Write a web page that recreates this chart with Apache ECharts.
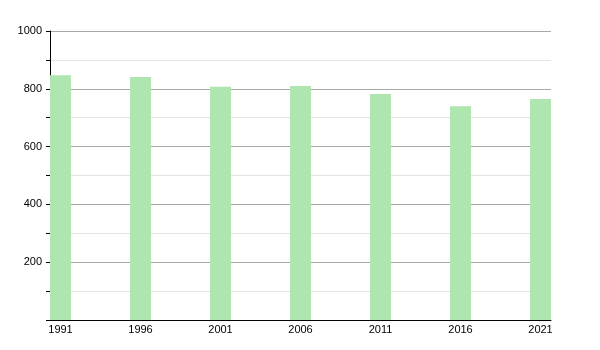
<!DOCTYPE html>
<html><head><meta charset="utf-8">
<script src="https://cdn.jsdelivr.net/npm/echarts@6/dist/echarts.min.js"></script>
<style>html,body{margin:0;padding:0;background:#fff}#c{width:600px;height:350px}</style>
</head><body><div id="c"></div>
<script>
var years = [1991, 1996, 2001, 2006, 2011, 2016, 2021];
var values = [847, 841, 807, 810, 782, 740, 765];
var yTicks = [200, 400, 600, 800, 1000];

var chart = echarts.init(document.getElementById('c'), null, {renderer: 'canvas'});
chart.setOption({
  animation: false,
  grid: {left: 50, right: 49, top: 31, bottom: 30, containLabel: false},
  xAxis: {
    type: 'value', min: 1990.34375, max: 2021.65625,
    axisLine: {show: true, lineStyle: {color: '#000', width: 1}},
    axisTick: {show: false},
    splitLine: {show: false},
    axisLabel: {
      customValues: years, color: '#000', fontSize: 11, fontFamily: 'Liberation Sans, Arial', margin: 4,
      formatter: function (v) { return String(v); }
    }
  },
  yAxis: {
    type: 'value', min: 0, max: 1000, interval: 100,
    axisLine: {show: true, lineStyle: {color: '#000', width: 1}},
    axisTick: {show: true, length: 4, lineStyle: {color: '#000'}},
    axisLabel: {
      color: '#000', fontSize: 11, fontFamily: 'Liberation Sans, Arial', margin: 8,
      formatter: function (v) { return yTicks.indexOf(v) >= 0 ? String(v) : ''; }
    },
    splitLine: {show: true, lineStyle: {color: ['#a8a8a8', '#e4e4e4'], width: 1}}
  },
  series: [{
    type: 'bar', barWidth: 21,
    itemStyle: {color: '#afe5ae'},
    data: years.map(function (y, i) { return [y, values[i]]; })
  }]
});
</script></body></html>
